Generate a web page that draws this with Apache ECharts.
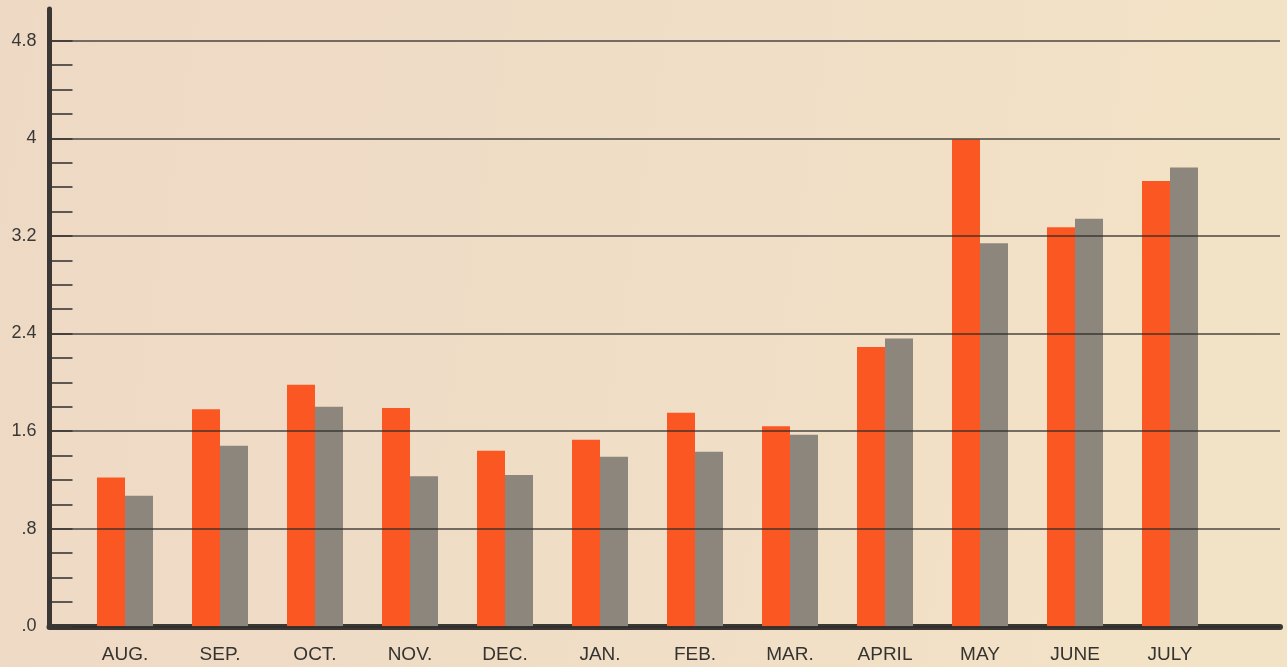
<!DOCTYPE html>
<html>
<head>
<meta charset="utf-8">
<title>Monthly bars</title>
<script src="https://cdn.jsdelivr.net/npm/echarts@6/dist/echarts.min.js"></script>
<style>
  html, body { margin: 0; padding: 0; background: #efdcc4; }
  #main { width: 1287px; height: 667px; }
</style>
</head>
<body>
<div id="main"></div>
<script>
var months = ['AUG.', 'SEP.', 'OCT.', 'NOV.', 'DEC.', 'JAN.', 'FEB.', 'MAR.', 'APRIL', 'MAY', 'JUNE', 'JULY'];
var orangeVals = [1.22, 1.78, 1.98, 1.79, 1.44, 1.53, 1.75, 1.64, 2.29, 3.99, 3.27, 3.65];
var grayVals = [1.07, 1.48, 1.80, 1.23, 1.24, 1.39, 1.43, 1.57, 2.36, 3.14, 3.34, 3.76];
var yLabels = ['.0', '.8', '1.6', '2.4', '3.2', '4', '4.8'];
var minorTicks = [0, 0.2, 0.4, 0.6, 0.8, 1.0, 1.2, 1.4, 1.6, 1.8, 2.0, 2.2, 2.4,
                  2.6, 2.8, 3.0, 3.2, 3.4, 3.6, 3.8, 4.0, 4.2, 4.4, 4.6, 4.8];

var yMax = 5.06;
var ink = '#3a3734';
var font = '"Liberation Sans", Arial, Helvetica, sans-serif';

var myChart = echarts.init(document.getElementById('main'));

myChart.setOption({
    animation: false,
    backgroundColor: {
        type: 'linear', x: 0, y: 0, x2: 1, y2: 0.3,
        colorStops: [
            { offset: 0, color: '#eed9c5' },
            { offset: 0.6, color: '#f0dec6' },
            { offset: 1, color: '#f3e3c6' }
        ]
    },
    grid: [
        // frame: axes, gridlines, ticks
        { left: 49.5, right: 7, top: 9, bottom: 40.7 },
        // bars + month labels
        { left: 77.5, right: 69.5, top: 9, bottom: 40.7 }
    ],
    xAxis: [
        {
            gridIndex: 0,
            type: 'value',
            min: 0,
            max: 1,
            axisLine: { show: true, lineStyle: { color: ink, width: 6 } },
            axisTick: { show: false },
            axisLabel: { show: false },
            splitLine: { show: false }
        },
        {
            gridIndex: 1,
            type: 'category',
            data: months,
            axisLine: { show: false },
            axisTick: { show: false },
            axisLabel: {
                margin: 19,
                fontSize: 19,
                fontFamily: font,
                color: '#353330'
            }
        }
    ],
    yAxis: [
        {
            gridIndex: 0,
            type: 'value',
            position: 'left',
            min: 0,
            max: yMax,
            interval: 0.8,
            z: 5,
            axisLine: { show: true, lineStyle: { color: ink, width: 5 } },
            axisTick: { show: false },
            axisLabel: {
                showMaxLabel: false,
                margin: 13,
                fontSize: 18,
                fontFamily: font,
                color: '#3a3835',
                formatter: function (v) {
                    return yLabels[Math.round(v / 0.8)];
                }
            },
            splitLine: {
                show: true,
                showMaxLine: false,
                lineStyle: { color: 'rgba(45,42,40,0.85)', width: 1.6 }
            }
        },
        {
            // short ticks every 0.2 on the left axis
            gridIndex: 0,
            type: 'value',
            position: 'left',
            offset: 0,
            min: 0,
            max: yMax,
            z: 5,
            axisLine: { show: false },
            axisLabel: { show: false },
            splitLine: { show: false },
            axisTick: {
                show: true,
                inside: true,
                length: 23,
                customValues: minorTicks,
                lineStyle: { color: ink, width: 1.6 }
            }
        },
        {
            gridIndex: 1,
            type: 'value',
            min: 0,
            max: yMax,
            show: false
        }
    ],
    series: [
        {
            type: 'bar',
            xAxisIndex: 1,
            yAxisIndex: 2,
            data: orangeVals,
            barWidth: 28,
            barGap: '0%',
            itemStyle: { color: '#fb5722' }
        },
        {
            type: 'bar',
            xAxisIndex: 1,
            yAxisIndex: 2,
            data: grayVals,
            barWidth: 28,
            barGap: '0%',
            itemStyle: { color: '#8c867d' }
        }
    ]
});
</script>
</body>
</html>
